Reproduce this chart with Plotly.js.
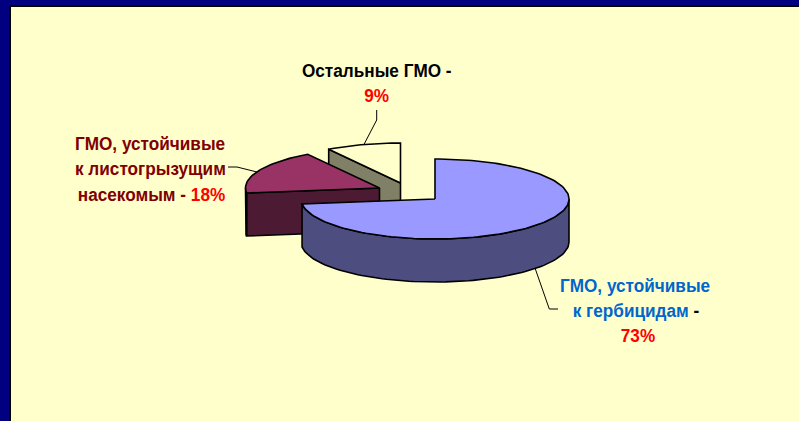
<!DOCTYPE html>
<html><head><meta charset="utf-8">
<script src="https://cdn.plot.ly/plotly-3.0.1.min.js"></script>
<style>html,body{margin:0;padding:0;background:#000080;overflow:hidden}#c{width:799px;height:421px}</style>
</head><body><div id="c"></div>
<script>
const categories = ["ГМО, устойчивые к гербицидам", "ГМО, устойчивые к листогрызущим насекомым", "Остальные ГМО"];
const values = [73, 18, 9];
const topColors = ["#9999FF", "#993366", "#FFFFCC"];
const sideColors = ["#4D4D80", "#4D1A33", "#808066"];
const labelRed = "#FF0000";

// projection of the tilted pie onto the page
const CX = 435, CY = 199, RX = 134, RY = 40, DEPTH = 43;
const explode = [[0, 0], [-55.5, -11], [-34.5, -16]];
const TEXT_SQUEEZE = 0.905;

function rim(deg, off, dy) {
  const t = deg * Math.PI / 180;
  return [CX + off[0] + RX * Math.sin(t), CY + off[1] - RY * Math.cos(t) + (dy || 0)];
}
function arc(a, b, off, dy) {
  const pts = [], n = Math.max(2, Math.ceil(Math.abs(b - a) / 2));
  for (let i = 0; i <= n; i++) pts.push(rim(a + (b - a) * i / n, off, dy));
  return pts;
}
function poly(pts, fill, w) {
  const c = pts.concat([pts[0]]);
  return {type: "scatter", mode: "lines", x: c.map(p => p[0]), y: c.map(p => p[1]),
    fill: "toself", fillcolor: fill, line: {color: "#000000", width: w || 1.6}, hoverinfo: "skip", showlegend: false};
}
const total = values.reduce((a, b) => a + b, 0);
let acc = 0;
const slices = values.map((v, i) => {
  const s = {start: acc / total * 360, end: (acc + v) / total * 360, off: explode[i], i};
  acc += v; return s;
});
const traces = [];
slices.slice().reverse().forEach(s => {
  const apex = [CX + s.off[0], CY + s.off[1]];
  const apexLow = [apex[0], apex[1] + DEPTH];
  const side = sideColors[s.i], top = topColors[s.i];
  if (s.start > 180) { // the cut face turned to the viewer
    const a = rim(s.start, s.off), b = rim(s.start, s.off, DEPTH);
    traces.push(poly([apex, a, b, apexLow], side));
  }
  const lo = Math.max(s.start, 90), hi = Math.min(s.end, 270);
  if (hi > lo) traces.push(poly(arc(lo, hi, s.off).concat(arc(hi, lo, s.off, DEPTH)), side));
  traces.push(poly([apex].concat(arc(s.start, s.end, s.off)), top));
});

const leaders = [
  [[376.7,110],[376.7,120],[363.7,145]],
  [[228,167],[237,167],[257,172]],
  [[535,268],[549.3,309],[558,309]]
];
leaders.forEach(l => traces.push({type: "scatter", mode: "lines", x: l.map(p => p[0]), y: l.map(p => p[1]),
  line: {color: "#000000", width: 1}, hoverinfo: "skip", showlegend: false}));

const red = t => `<span style="color:${labelRed}">${t}</span>`;
const lbl = (x, y, text, color) => ({xref: "x", yref: "y", x, y, text, showarrow: false,
  xanchor: "center", yanchor: "middle", font: {family: "Liberation Sans, Arial, sans-serif", size: 19, color}});
const annotations = [
  lbl(377, 70, "<b>Остальные ГМО -</b>", "#000000"),
  lbl(377, 95, "<b>" + red(values[2] + "%") + "</b>", "#000000"),
  lbl(150, 143, "<b>ГМО, устойчивые</b>", "#800000"),
  lbl(150, 168, "<b>к листогрызущим</b>", "#800000"),
  lbl(151, 194, "<b>насекомым - " + red(values[1] + "%") + "</b>", "#800000"),
  lbl(635, 285, "<b>ГМО, устойчивые</b>", "#0066CC"),
  lbl(636, 310, "<b>к гербицидам <span style=\"color:#000000\">-</span></b>", "#0066CC"),
  lbl(637.5, 335, "<b>" + red(values[0] + "%") + "</b>", "#000000")
];

const axis = r => ({range: r, visible: false, fixedrange: true});
Plotly.newPlot("c", traces, {
  width: 799, height: 421, margin: {l: 0, r: 0, t: 0, b: 0},
  paper_bgcolor: "#000080", plot_bgcolor: "#000080",
  xaxis: axis([0, 799]), yaxis: axis([421, 0]),
  showlegend: false, hovermode: false,
  shapes: [
    {type: "rect", layer: "below", xref: "x", yref: "y", x0: 9, x1: 799, y0: 5, y1: 421, fillcolor: "#000000", line: {width: 0}},
    {type: "rect", layer: "below", xref: "x", yref: "y", x0: 11, x1: 799, y0: 7, y1: 421, fillcolor: "#FFFFCC", line: {width: 0}}
  ],
  annotations
}, {displayModeBar: false, staticPlot: true}).then(gd => {
  // the reference type is a condensed face: squeeze each label about its own centre
  gd.querySelectorAll("text.annotation-text").forEach(t => {
    const b = t.getBBox(), mid = b.x + b.width / 2;
    t.setAttribute("transform", `translate(${mid} 0) scale(${TEXT_SQUEEZE} 1) translate(${-mid} 0)`);
  });
});
</script></body></html>
